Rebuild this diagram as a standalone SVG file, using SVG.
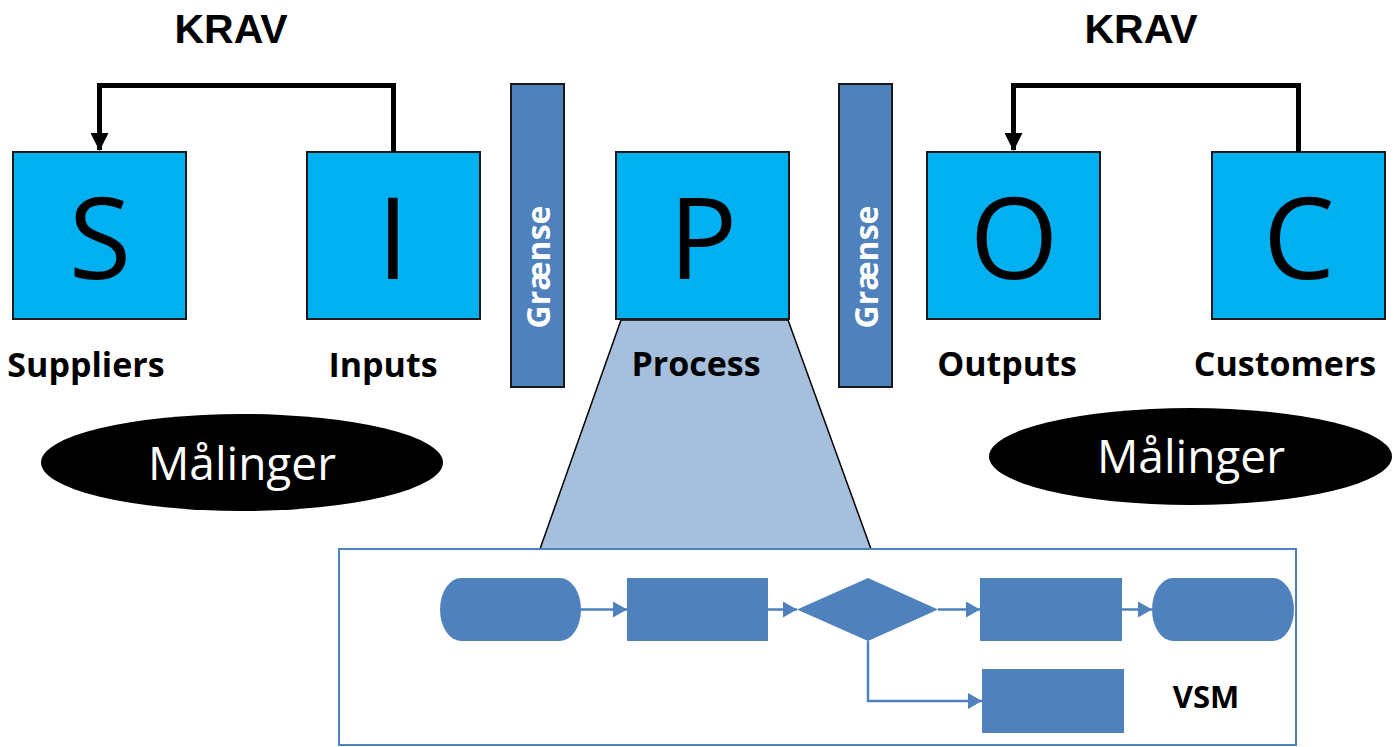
<svg xmlns="http://www.w3.org/2000/svg" width="1394" height="747" viewBox="0 0 1394 747">
<style>
.box{fill:#00B0F0;stroke:#1a1a1a;stroke-width:2}
.letter{font-family:"Open Sans","Liberation Sans",sans-serif;font-size:114px;fill:#000;text-anchor:middle}
.lbl{font-family:"Open Sans","Liberation Sans",sans-serif;font-size:34px;font-weight:700;fill:#000;text-anchor:middle}
.krav{font-family:"Liberation Sans","Open Sans",sans-serif;font-size:41px;font-weight:700;fill:#000;text-anchor:middle}
.bar{fill:#4F81BD;stroke:#1a1a1a;stroke-width:2}
.barT{font-family:"Open Sans","Liberation Sans",sans-serif;font-size:32px;font-weight:700;fill:#fff;text-anchor:middle}
.ell{fill:#000}
.ellT{font-family:"Open Sans","Liberation Sans",sans-serif;font-size:46px;fill:#fff;text-anchor:middle}
.fc{fill:#4F81BD}
.fl{fill:none;stroke:#4F81BD;stroke-width:2.5}
.req{fill:none;stroke:#000;stroke-width:5}
</style>
<defs>
<marker id="bigArrow" markerUnits="userSpaceOnUse" markerWidth="18" markerHeight="18" viewBox="0 0 18 18" refX="17" refY="9" orient="auto">
<path d="M0,0 L18,9 L0,18 Z" fill="#000"/>
</marker>
<marker id="smallArrow" markerUnits="userSpaceOnUse" markerWidth="14" markerHeight="16" viewBox="0 0 14 16" refX="14" refY="8" orient="auto">
<path d="M0,0 L14,8 L0,16 Z" fill="#4F81BD"/>
</marker>
</defs>
<rect width="1394" height="747" fill="#fff"/>

<g id="krav-left"><text class="krav" x="231" y="43">KRAV</text></g>
<g id="krav-right"><text class="krav" x="1141" y="43">KRAV</text></g>

<g id="trapezoid"><polygon points="621,320 788,320 871,549 540,549" fill="#A6BFDD" stroke="#000" stroke-width="1.5"/></g>

<g id="node-S"><rect class="box" x="13" y="152" width="173" height="167"/><text class="letter" x="100" y="279">S</text><text class="lbl" x="86" y="377">Suppliers</text></g>
<g id="node-I"><rect class="box" x="307" y="152" width="173" height="167"/><text class="letter" x="393" y="279">I</text><text class="lbl" x="383" y="377">Inputs</text></g>
<g id="node-P"><rect class="box" x="616" y="152" width="173" height="167"/><text class="letter" x="703" y="279">P</text><text class="lbl" x="696" y="376">Process</text></g>
<g id="node-O"><rect class="box" x="927" y="152" width="173" height="167"/><text class="letter" x="1014" y="279">O</text><text class="lbl" x="1007" y="376">Outputs</text></g>
<g id="node-C"><rect class="box" x="1212" y="152" width="173" height="167"/><text class="letter" x="1299" y="279">C</text><text class="lbl" x="1285" y="376">Customers</text></g>

<g id="graense-left"><rect class="bar" x="511" y="84" width="53" height="303"/><text class="barT" transform="translate(550,267) rotate(-90)">Grænse</text></g>
<g id="graense-right"><rect class="bar" x="839" y="84" width="53" height="303"/><text class="barT" transform="translate(878,267) rotate(-90)">Grænse</text></g>

<g id="maalinger-left"><ellipse class="ell" cx="242" cy="462.5" rx="201" ry="48.5"/><text class="ellT" x="242" y="480">Målinger</text></g>
<g id="maalinger-right"><ellipse class="ell" cx="1190.5" cy="456.5" rx="201.5" ry="48.5"/><text class="ellT" x="1191" y="473">Målinger</text></g>

<g id="vsm-box"><rect x="339" y="549" width="957" height="196" fill="#fff" stroke="#4F81BD" stroke-width="2"/></g>
<g id="fc-start"><path class="fc" d="M461,578 L560,578 A21,31.5 0 0 1 560,641 L461,641 A21,31.5 0 0 1 461,578 Z"/></g>
<g id="fc-step1"><rect class="fc" x="627" y="578" width="141" height="63"/></g>
<g id="fc-decision"><polygon class="fc" points="868,578 938,609.5 868,641 797,609.5"/></g>
<g id="fc-step2"><rect class="fc" x="980" y="578" width="142" height="63"/></g>
<g id="fc-end"><path class="fc" d="M1173,578 L1273,578 A21,31.5 0 0 1 1273,641 L1173,641 A21,31.5 0 0 1 1173,578 Z"/></g>
<g id="fc-step3"><rect class="fc" x="982" y="669" width="142" height="64"/></g>
<g id="vsm-label"><text class="lbl" x="1206" y="708" style="font-size:31px">VSM</text></g>

<g id="connectors">
<path class="req" d="M393.5,152 L393.5,85.5 L99.5,85.5 L99.5,150" marker-end="url(#bigArrow)"/>
<path class="req" d="M1298.5,152 L1298.5,85.5 L1013.5,85.5 L1013.5,150" marker-end="url(#bigArrow)"/>
<path class="fl" d="M580,609.5 L627,609.5" marker-end="url(#smallArrow)"/>
<path class="fl" d="M768,609.5 L797,609.5" marker-end="url(#smallArrow)"/>
<path class="fl" d="M938,609.5 L980,609.5" marker-end="url(#smallArrow)"/>
<path class="fl" d="M1122,609.5 L1152,609.5" marker-end="url(#smallArrow)"/>
<path class="fl" d="M868,641 L868,701 L982,701" marker-end="url(#smallArrow)"/>
</g>
</svg>
